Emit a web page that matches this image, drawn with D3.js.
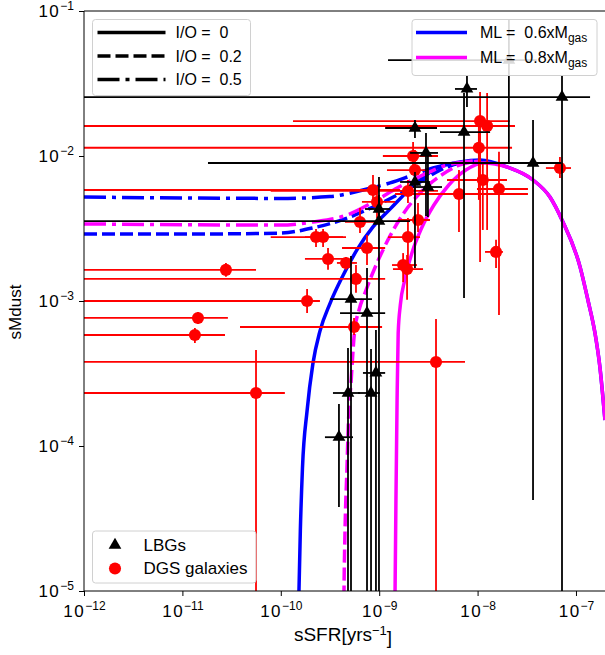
<!DOCTYPE html>
<html>
<head>
<meta charset="utf-8">
<script src="https://cdn.jsdelivr.net/npm/d3@7"></script>
<style>
  body { margin: 0; background: #fff; }
  svg { display: block; font-family: "Liberation Sans", Arial, sans-serif; }
</style>
</head>
<body>
<svg id="chart" width="605" height="655"></svg>
<script>
// axis extents and tick exponents
const xDomain = [1e-12, 2e-7];
const yDomain = [1e-5, 1e-1];
const xTickExp = [-12, -11, -10, -9, -8, -7];
const yTickExp = [-5, -4, -3, -2, -1];

// DGS galaxies (red): value, lower end, upper end of the error bars
const dgsSSFR    = [2.77e-11, 1.44e-11, 1.34e-11, 5.6e-11, 3.78e-9, 1.85e-10, 5.55e-10, 5.81e-10, 2.28e-10, 2.69e-10, 3.02e-10, 4.6e-10, 7.52e-10, 6.38e-10, 8.65e-10, 9.5e-10, 1.96e-9, 2.31e-9, 2.21e-9, 2.48e-9, 1.96e-9, 1.75e-9, 1.92e-9, 6.47e-9, 1.06e-8, 1.25e-8, 1.03e-8, 1.13e-8, 1.65e-8, 1.54e-8, 6.87e-8];
const dgsSSFRLo  = [1e-13, 1e-13, 1e-13, 1e-13, 1e-13, 1e-13, 3.85e-11, 1e-13, 7.9e-11, 1.76e-10, 1.76e-10, 3.72e-10, 4.19e-10, 4.49e-10, 1e-13, 6.68e-10, 7.9e-11, 1.2e-9, 1.09e-9, 1.55e-9, 1.23e-9, 1.35e-9, 1.38e-9, 1.45e-9, 1.33e-10, 1e-13, 1e-13, 4.89e-9, 9.86e-9, 1.19e-8, 4.95e-8];
const dgsSSFRHi  = [5.6e-11, 2.9e-11, 2.71e-11, 1.1e-10, 7.45e-9, 2.5e-10, 1.07e-9, 1.15e-9, 4.29e-10, 4.6e-10, 4.29e-10, 5.94e-10, 1.15e-9, 1.07e-9, 1.63e-9, 1.45e-9, 3.96e-9, 3.13e-9, 3.96e-9, 3.28e-9, 2.6e-9, 2.42e-9, 2.79e-9, 3.25e-8, 2.13e-8, 2.4e-8, 2.24e-8, 1.99e-8, 3.25e-8, 1.81e-8, 8.9e-8];
const dgsSMdust   = [1.64e-3, 7.64e-4, 5.83e-4, 2.32e-4, 3.8e-4, 1.0e-3, 6.62e-4, 1.42e-3, 2.76e-3, 2.76e-3, 1.95e-3, 1.83e-3, 2.32e-3, 3.51e-3, 5.83e-3, 4.82e-3, 5.74e-3, 8.0e-3, 1.0e-2, 3.62e-3, 2.76e-3, 1.77e-3, 1.66e-3, 5.47e-3, 1.74e-2, 1.61e-2, 1.14e-2, 6.83e-3, 5.92e-3, 2.18e-3, 8.26e-3];
const dgsSMdustLo = [1.47e-3, 6.94e-4, 5.13e-4, 1e-6, 1e-6, 8.26e-4, 5.83e-4, 1.14e-3, 2.36e-3, 2.36e-3, 1.64e-3, 1.64e-3, 1.77e-3, 2.94e-3, 4.74e-3, 3.73e-3, 4.74e-3, 5.83e-3, 7.4e-3, 2.99e-3, 1.69e-3, 1.35e-3, 1.02e-3, 2.99e-3, 1.86e-3, 3.09e-3, 4.98e-3, 3.09e-3, 8.0e-4, 1.69e-3, 7.05e-3];
const dgsSMdustHi = [1.83e-3, 8.39e-4, 6.52e-4, 4.59e-4, 7.52e-4, 1.21e-3, 7.64e-4, 1.77e-3, 3.14e-3, 3.14e-3, 2.32e-3, 2.01e-3, 2.85e-3, 4.38e-3, 7.4e-3, 6.01e-3, 6.83e-3, 1.1e-2, 1.25e-2, 4.74e-3, 3.73e-3, 2.14e-3, 2.08e-3, 8.0e-3, 2.76e-2, 2.72e-2, 1.77e-2, 9.1e-3, 1.07e-2, 2.64e-3, 9.84e-3];

// LBGs (black)
const lbgSSFR    = [7.8e-9, 7.21e-8, 2.08e-8, 2.31e-9, 7.28e-9, 2.99e-9, 2.31e-9, 3.13e-9, 3.66e-8, 9.95e-10, 9.95e-10, 5.17e-10, 7.52e-10, 4.82e-10, 3.9e-10, 8.26e-10, 9.27e-10];
const lbgSSFRLo  = [5.89e-9, 1e-13, 1.23e-9, 1.15e-9, 4.15e-9, 2.06e-9, 1.63e-9, 2.21e-9, 1.82e-11, 7.18e-10, 1e-13, 3.16e-10, 4.0e-10, 3.39e-10, 2.81e-10, 6.09e-10, 6.84e-10];
const lbgSSFRHi  = [9.86e-9, 1.39e-7, 4.0e-8, 3.87e-9, 1.34e-8, 3.96e-9, 3.28e-9, 4.35e-9, 7.04e-8, 1.29e-9, 2.06e-9, 8.45e-10, 1.15e-9, 6.38e-10, 5.42e-10, 1.02e-9, 1.15e-9];
const lbgSMdust   = [2.9e-2, 2.55e-2, 4.59e-2, 1.56e-2, 1.46e-2, 1.05e-2, 6.62e-3, 6.11e-3, 8.95e-3, 4.31e-3, 3.56e-3, 1.03e-3, 8.26e-4, 2.32e-4, 1.15e-4, 2.32e-4, 3.19e-4];
const lbgSMdustLo = [2.18e-2, 1e-6, 8.95e-3, 1.33e-2, 1.05e-3, 3.86e-3, 1.69e-3, 3.8e-3, 4.25e-5, 3.34e-3, 1e-6, 1e-6, 1e-6, 1e-6, 3.8e-5, 1e-6, 1e-6];
const lbgSMdustHi = [3.62e-2, 3.62e-2, 8.67e-2, 1.77e-2, 2.72e-2, 1.44e-2, 7.76e-3, 1.05e-2, 1.77e-2, 5.38e-3, 7.16e-3, 2.04e-3, 1.69e-3, 4.74e-4, 1.95e-4, 4.67e-4, 6.31e-4];

// model curves
const declineSSFR   = [1.99e-8, 3.66e-8, 5.44e-8, 7.21e-8, 1.1e-7, 1.32e-7, 1.56e-7, 1.75e-7, 1.97e-7];
const declineSMdust = [8.4e-3, 6.83e-3, 5.21e-3, 3.62e-3, 1.72e-3, 1.02e-3, 6.01e-4, 3.51e-4, 1.51e-4];

const blueSolidSSFR   = [1.5e-10, 1.53e-10, 1.58e-10, 1.66e-10, 1.85e-10, 2.12e-10, 2.5e-10, 3.16e-10, 4.29e-10, 5.94e-10, 8.65e-10, 1.29e-9, 2.21e-9, 3.87e-9, 6.62e-9, 1.06e-8];
const blueSolidSMdust = [5e-6, 1e-5, 2.6e-5, 7.0e-5, 1.75e-4, 3.7e-4, 6.2e-4, 9.6e-4, 1.5e-3, 2.25e-3, 3.24e-3, 4.3e-3, 6.21e-3, 8.26e-3, 9.1e-3, 9.38e-3];
const blueDashSSFR    = [1e-12, 1.51e-11, 9.8e-11, 2.12e-10, 4.71e-10, 8.65e-10, 1.52e-9, 2.6e-9, 4.15e-9, 6.62e-9, 9.86e-9];
const blueDashSMdust  = [2.9e-3, 2.9e-3, 2.94e-3, 3.19e-3, 3.73e-3, 4.45e-3, 5.38e-3, 6.62e-3, 8.0e-3, 8.95e-3, 9.25e-3];
const blueDotSSFR     = [1e-12, 9.8e-11, 3.16e-10, 6.84e-10, 1.29e-9, 2.21e-9, 3.52e-9, 6.18e-9, 8.98e-9];
const blueDotSMdust   = [5.21e-3, 5.1e-3, 5.25e-3, 5.83e-3, 6.52e-3, 7.4e-3, 8.26e-3, 8.95e-3, 9.25e-3];
const magSolidSSFR    = [1.43e-9, 1.45e-9, 1.48e-9, 1.52e-9, 1.56e-9, 1.64e-9, 1.82e-9, 2.15e-9, 2.7e-9, 3.6e-9, 5.1e-9, 7.6e-9, 1.13e-8];
const magSolidSMdust  = [5e-6, 1e-5, 4.25e-5, 2.07e-4, 6.01e-4, 9.38e-4, 1.4e-3, 2.14e-3, 3.19e-3, 4.59e-3, 6.31e-3, 8.0e-3, 8.95e-3];
const magDashSSFR     = [4.35e-10, 4.39e-10, 4.49e-10, 4.71e-10, 4.85e-10, 5.17e-10, 5.6e-10, 6.24e-10, 7.18e-10, 9.5e-10, 1.29e-9, 1.75e-9, 2.6e-9, 4.15e-9, 6.62e-9, 1.06e-8];
const magDashSMdust   = [5e-6, 1e-5, 2.51e-5, 7.16e-5, 1.35e-4, 2.72e-4, 6.01e-4, 8.67e-4, 1.14e-3, 1.83e-3, 2.81e-3, 3.98e-3, 5.56e-3, 7.28e-3, 8.67e-3, 9.25e-3];
const magDotSSFR      = [1e-12, 9.8e-11, 2.12e-10, 4.71e-10, 9.5e-10, 1.52e-9, 2.79e-9, 4.89e-9, 8.98e-9];
const magDotSMdust    = [3.4e-3, 3.34e-3, 3.51e-3, 3.92e-3, 4.98e-3, 6.01e-3, 7.4e-3, 8.67e-3, 9.25e-3];

// legend texts
const ioLabels = ["I/O =  0", "I/O =  0.2", "I/O =  0.5"];
const mlLabels = ["ML =  0.6xM", "ML =  0.8xM"];
const sampleLabels = ["LBGs", "DGS galaxies"];

const BLUE = "#0000ff", MAGENTA = "#ff00ff", RED = "#ff0000";
const DASH = "13,5", DASHDOT = "22,6,4,6";

const pL = 84, pT = 11, pR = 605.6, pB = 591;
const x = d3.scaleLog().domain(xDomain).range([pL, pR]);
const y = d3.scaleLog().domain(yDomain).range([pB, pT]);

const svg = d3.select("#chart");
svg.append("defs").append("clipPath").attr("id", "clip")
  .append("rect").attr("x", pL).attr("y", pT)
  .attr("width", pR - pL).attr("height", pB - pT);

const plot = svg.append("g").attr("clip-path", "url(#clip)");

const zip = (xs, ys) => xs.map((v, i) => [v, ys[i]]);
const line = d3.line().x(d => x(d[0])).y(d => y(d[1])).curve(d3.curveMonotoneX);

const curves = [
  { pts: zip(blueDotSSFR, blueDotSMdust), color: BLUE, dash: DASHDOT },
  { pts: zip(blueDashSSFR, blueDashSMdust), color: BLUE, dash: DASH },
  { pts: zip(blueSolidSSFR.concat(declineSSFR), blueSolidSMdust.concat(declineSMdust)), color: BLUE, dash: null },
  { pts: zip(magDotSSFR, magDotSMdust), color: MAGENTA, dash: DASHDOT },
  { pts: zip(magDashSSFR, magDashSMdust), color: MAGENTA, dash: DASH },
  { pts: zip(magSolidSSFR.concat(declineSSFR), magSolidSMdust.concat(declineSMdust)), color: MAGENTA, dash: null }
];

plot.selectAll("path.curve").data(curves).join("path")
  .attr("class", "curve")
  .attr("d", d => line(d.pts))
  .attr("fill", "none")
  .attr("stroke", d => d.color)
  .attr("stroke-width", 3.5)
  .attr("stroke-dasharray", d => d.dash);

function errorPoints(g, xs, xlo, xhi, ys, ylo, yhi, color, marker) {
  const pts = xs.map((v, i) => ({ x: v, xlo: xlo[i], xhi: xhi[i], y: ys[i], ylo: ylo[i], yhi: yhi[i] }));
  const grp = g.append("g");
  grp.selectAll("line.h").data(pts).join("line")
    .attr("class", "h")
    .attr("x1", d => x(d.xlo)).attr("x2", d => x(d.xhi))
    .attr("y1", d => y(d.y)).attr("y2", d => y(d.y))
    .attr("stroke", color).attr("stroke-width", 1.8);
  grp.selectAll("line.v").data(pts).join("line")
    .attr("class", "v")
    .attr("x1", d => x(d.x)).attr("x2", d => x(d.x))
    .attr("y1", d => y(d.ylo)).attr("y2", d => y(d.yhi))
    .attr("stroke", color).attr("stroke-width", 1.8);
  grp.selectAll("path.m").data(pts).join("path")
    .attr("class", "m")
    .attr("transform", d => `translate(${x(d.x)},${y(d.y)})`)
    .attr("d", marker)
    .attr("fill", color);
}

const circle = d3.symbol(d3.symbolCircle, 115)();
const triangle = d3.symbol(d3.symbolTriangle, 70)();

errorPoints(plot, dgsSSFR, dgsSSFRLo, dgsSSFRHi, dgsSMdust, dgsSMdustLo, dgsSMdustHi, RED, circle);
errorPoints(plot, lbgSSFR, lbgSSFRLo, lbgSSFRHi, lbgSMdust, lbgSMdustLo, lbgSMdustHi, "#000", triangle);

// axes
const xMajor = xTickExp.map(e => Math.pow(10, e));
const yMajor = yTickExp.map(e => Math.pow(10, e));
const minorOf = (majors, dom) => majors.flatMap(m => d3.range(2, 10).map(k => k * m)).filter(v => v <= dom[1]);

function superLabels(g) {
  g.selectAll(".tick text").each(function(d) {
    const t = d3.select(this).text(null);
    t.append("tspan").attr("letter-spacing", "1.5px").text("10");
    t.append("tspan").attr("dy", "-0.55em").attr("font-size", "12px")
      .text("\u2212" + (-Math.round(Math.log10(d))));
  });
}

const gx = svg.append("g").attr("transform", `translate(0,${pB})`);
gx.call(d3.axisBottom(x).tickValues(minorOf(xMajor, xDomain)).tickSize(3).tickFormat(""));
gx.call(d3.axisBottom(x).tickValues(xMajor).tickSize(5).tickSizeOuter(0).tickPadding(9));
gx.selectAll(".domain").remove();
gx.selectAll(".tick text").attr("font-size", "17px").attr("font-family", null).attr("fill", "#000");
superLabels(gx);

const gy = svg.append("g").attr("transform", `translate(${pL},0)`);
gy.call(d3.axisLeft(y).tickValues(minorOf(yMajor, yDomain)).tickSize(3).tickFormat(""));
gy.call(d3.axisLeft(y).tickValues(yMajor).tickSize(5).tickSizeOuter(0).tickPadding(5));
gy.selectAll(".domain").remove();
gy.selectAll(".tick text").attr("font-size", "17px").attr("font-family", null).attr("fill", "#000");
superLabels(gy);

// spines
svg.append("path")
  .attr("d", `M${pL},${pT}H${pR}M${pL},${pT}V${pB}H${pR}`)
  .attr("fill", "none").attr("stroke", "#000").attr("stroke-width", 1);

// axis titles
const xt = svg.append("text").attr("x", 343).attr("y", 641)
  .attr("text-anchor", "middle").attr("font-size", "19px");
xt.append("tspan").text("sSFR[yrs");
xt.append("tspan").attr("dy", "-0.5em").attr("font-size", "13px").text("\u22121");
xt.append("tspan").attr("dy", "0.5em").text("]");

svg.append("text")
  .attr("transform", `translate(21,312) rotate(-90)`)
  .attr("text-anchor", "middle").attr("font-size", "17px").text("sMdust");

// legends
function frame(x0, y0, w, h) {
  return svg.append("g").attr("transform", `translate(${x0},${y0})`)
    .call(g => g.append("rect").attr("width", w).attr("height", h).attr("rx", 3)
      .attr("fill", "#fff").attr("fill-opacity", 0.85).attr("stroke", "#d0d0d0"));
}

const lg1 = frame(92.5, 19.5, 158, 76);
lg1.selectAll("g").data(ioLabels).join("g")
  .attr("transform", (d, i) => `translate(0,${13 + i * 23.5})`)
  .call(g => g.append("line").attr("x1", 5).attr("x2", 73)
    .attr("stroke", "#000").attr("stroke-width", 3.5)
    .attr("stroke-dasharray", (d, i) => [null, DASH, DASHDOT][i]))
  .call(g => g.append("text").attr("x", 83).attr("dy", "0.35em")
    .attr("font-size", "16px").attr("xml:space", "preserve").style("white-space", "pre").text(d => d));

const lg2 = frame(412, 19.5, 185, 56);
lg2.selectAll("g").data(mlLabels).join("g")
  .attr("transform", (d, i) => `translate(0,${13 + i * 25})`)
  .call(g => g.append("line").attr("x1", 4).attr("x2", 55)
    .attr("stroke", (d, i) => [BLUE, MAGENTA][i]).attr("stroke-width", 3.5))
  .call(g => {
    const t = g.append("text").attr("x", 68).attr("dy", "0.35em").attr("font-size", "16px")
      .style("white-space", "pre");
    t.append("tspan").text(d => d);
    t.append("tspan").attr("dy", "0.35em").attr("font-size", "12px").text("gas");
  });

const lg3 = frame(92.5, 531, 163.5, 52);
lg3.selectAll("g").data(sampleLabels).join("g")
  .attr("transform", (d, i) => `translate(0,${14 + i * 23.5})`)
  .call(g => g.append("path").attr("transform", "translate(22.5,0)")
    .attr("d", (d, i) => [triangle, circle][i])
    .attr("fill", (d, i) => ["#000", RED][i]))
  .call(g => g.append("text").attr("x", 51).attr("dy", "0.35em")
    .attr("font-size", "17px").text(d => d));
</script>
</body>
</html>
